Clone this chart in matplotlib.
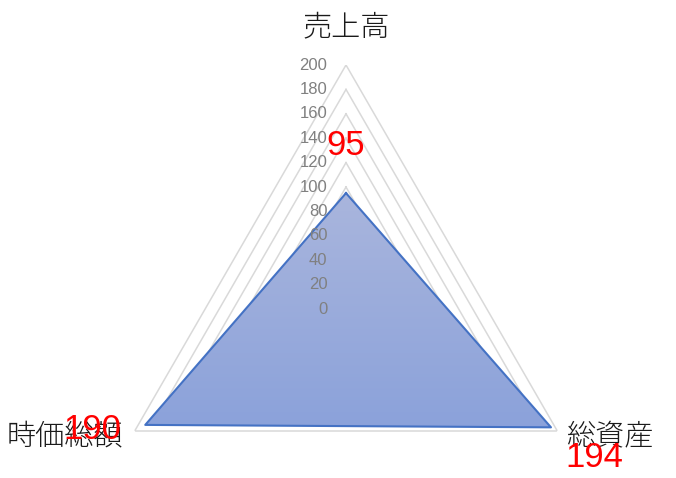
import numpy as np
import matplotlib
matplotlib.use("Agg")
import matplotlib.pyplot as plt

# chart data
categories = ["売上高", "総資産", "時価総額"]
values = [95, 194, 190]
r_ticks = [0, 20, 40, 60, 80, 100, 120, 140, 160, 180, 200]

JP_FONT = ["Noto Sans CJK JP", "DejaVu Sans"]
NUM_FONT = ["Liberation Sans", "DejaVu Sans"]

fig = plt.figure(figsize=(6.76, 4.78), dpi=100)
fig.patch.set_facecolor("white")

# polar axes placed so that the centre / outer ring match the original
cx, cy, R = 346, 309, 244
ax = fig.add_axes([(cx - R) / 676, (478 - cy - R) / 478, 2 * R / 676, 2 * R / 478],
                  projection="polar")
ax.set_theta_offset(np.pi / 2)
ax.set_theta_direction(-1)
ax.set_ylim(0, 200)
ax.set_facecolor("none")
ax.grid(False)
ax.spines["polar"].set_visible(False)
ax.set_xticks([])
ax.set_yticks([])

n = len(categories)
angles = np.linspace(0, 2 * np.pi, n, endpoint=False)
closed_angles = np.append(angles, angles[0])

# triangular grid
for level in r_ticks[1:]:
    ax.plot(closed_angles, [level] * (n + 1), color="#d9d9d9", lw=1.1, zorder=1)

# data polygon with a vertical gradient fill
closed_vals = values + values[:1]
poly = ax.fill(closed_angles, closed_vals, facecolor="none", edgecolor="none", zorder=2)[0]
grad = np.linspace(0, 1, 256).reshape(-1, 1)
cmap = matplotlib.colors.LinearSegmentedColormap.from_list("g", ["#8aa1da", "#aab6dd"])
im = ax.imshow(grad, cmap=cmap, origin="lower", extent=[0, 1, 0.24, 0.75],
               transform=ax.transAxes, aspect="auto", zorder=2)
im.set_clip_path(poly)
ax.set_xlim(0, 2 * np.pi)
ax.set_ylim(0, 200)
ax.plot(closed_angles, closed_vals, color="#4472c4", lw=1.5, zorder=3)

# radial tick labels along the top axis
for v in r_ticks:
    ax.annotate(str(v), xy=(0, v), xytext=(-13.5, 0), textcoords="offset points",
                ha="right", va="center", fontsize=12, color="#808080",
                family=NUM_FONT, zorder=4, annotation_clip=False)

# category labels
cat_offsets = [(0, 27.5, "center"), (6.5, -3.5, "left"), (-8, -3.5, "right")]
for ang, name, (dx, dy, ha) in zip(angles, categories, cat_offsets):
    ax.annotate(name, xy=(ang, 200), xytext=(dx, dy), textcoords="offset points",
                ha=ha, va="center", fontsize=21, color="#1a1a1a", weight="light",
                family=JP_FONT, annotation_clip=False)

# red data labels
val_offsets = [(0, 34), (31, -21.5), (-38, -3.5)]
for ang, v, (dx, dy) in zip(angles, values, val_offsets):
    ax.annotate(str(v), xy=(ang, v), xytext=(dx, dy), textcoords="offset points",
                ha="center", va="center", fontsize=25, color="#ff0000",
                family=NUM_FONT, zorder=5, annotation_clip=False)

fig.savefig("out.png", dpi=100)
